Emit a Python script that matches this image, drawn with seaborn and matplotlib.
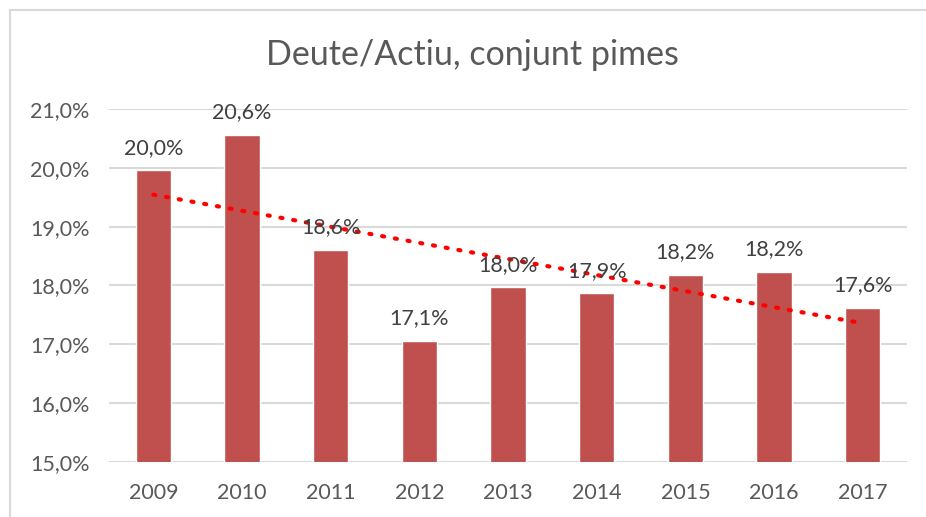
import matplotlib
matplotlib.use('Agg')
import matplotlib.pyplot as plt
from matplotlib.patches import Rectangle
from matplotlib.ticker import FuncFormatter
import numpy as np
import pandas as pd
import seaborn as sns

# Deute/Actiu (%) per any
years = ['2009', '2010', '2011', '2012', '2013', '2014', '2015', '2016', '2017']
ratio = [19.96, 20.56, 18.61, 17.06, 17.97, 17.87, 18.18, 18.23, 17.62]

df = pd.DataFrame({'year': years, 'ratio': ratio})

sns.set_style('white')
plt.rcParams['font.family'] = ['Lato', 'DejaVu Sans']

fig = plt.figure(figsize=(9.26, 5.17), dpi=100)
ax = fig.add_axes([109/926, 1-462/517, (907-109)/926, (462-109)/517])

sns.barplot(data=df, x='year', y='ratio', color='#c0504d', saturation=1,
            width=0.4, ax=ax, zorder=2)

# linear trend line
xs = np.arange(len(years))
k, b = np.polyfit(xs, df['ratio'], 1)
ax.plot(xs, k*xs+b, color='#ff0000', linestyle=(0, (0.5, 2.6)),
        linewidth=3, dash_capstyle='round', zorder=3)

# data labels
for i, v in enumerate(df['ratio']):
    ax.annotate(f'{v:.1f}'.replace('.', ',') + '%', (i, v),
                xytext=(0, 9), textcoords='offset points',
                ha='center', va='bottom', fontsize=15.5, color='#404040', zorder=4)

ax.set_xlim(-0.5, len(years) - 0.5)
ax.set_ylim(15, 21)
ax.set_yticks(np.arange(15, 21.5, 1))
ax.yaxis.set_major_formatter(FuncFormatter(lambda v, p: f'{v:.1f}'.replace('.', ',') + '%'))
ax.grid(axis='y', color='#d9d9d9', linewidth=1.5, zorder=0)
ax.set_axisbelow(True)
for s in ax.spines.values():
    s.set_visible(False)
ax.tick_params(axis='both', length=0, labelsize=15.5, colors='#595959')
ax.tick_params(axis='y', pad=14)
ax.tick_params(axis='x', pad=15)
ax.set_xlabel('')
ax.set_ylabel('')

fig.text(472/926, 1-55/517, 'Deute/Actiu, conjunt pimes', ha='center', va='center',
         fontsize=24.5, color='#595959')

fig.patches.append(Rectangle((10/926, -0.1), 1.0, 1.1-10/517, transform=fig.transFigure,
                             fill=False, edgecolor='#d9d9d9', linewidth=1.5))

fig.savefig('out.png', dpi=100)
